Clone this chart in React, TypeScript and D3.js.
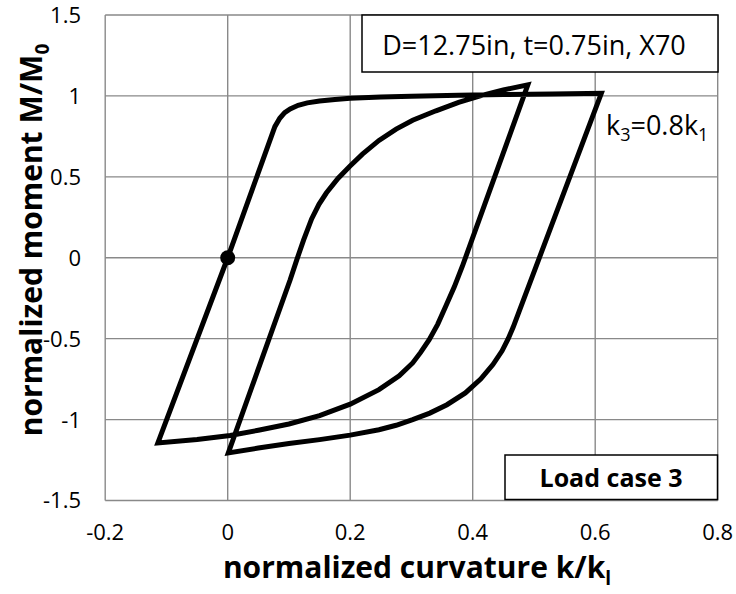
import React from 'react';
import * as d3 from 'd3';

const xTickValues = [-0.2, 0, 0.2, 0.4, 0.6, 0.8];
const xTickLabels = ['-0.2', '0', '0.2', '0.4', '0.6', '0.8'];
const yTickValues = [-1.5, -1, -0.5, 0, 0.5, 1, 1.5];
const yTickLabels = ['-1.5', '-1', '-0.5', '0', '0.5', '1', '1.5'];

// [normalized curvature, normalized moment]
const loading: [number, number][] = [
  [0, 0], [0.077, 0.81], [0.085, 0.862], [0.093, 0.897], [0.102, 0.92], [0.115, 0.942],
  [0.13, 0.957], [0.15, 0.969], [0.175, 0.978], [0.2, 0.985], [0.25, 0.993], [0.3, 0.998],
  [0.377, 1.004], [0.45, 1.008], [0.53, 1.012], [0.61, 1.016],
];
const unloading1: [number, number][] = [
  [0.61, 1.016], [0.474, -0.35], [0.466, -0.43], [0.458, -0.5], [0.448, -0.575],
  [0.433, -0.66], [0.413, -0.75], [0.388, -0.835], [0.358, -0.908], [0.33, -0.96],
  [0.302, -1.0], [0.275, -1.035], [0.247, -1.063], [0.2, -1.096], [0.15, -1.124],
  [0.1, -1.148], [0.05, -1.176], [0.001, -1.206],
];
const reloading1: [number, number][] = [
  [0.001, -1.206], [0.102, -0.136], [0.113, -0.01], [0.124, 0.11], [0.137, 0.24],
  [0.149, 0.33], [0.161, 0.4], [0.18, 0.49], [0.199, 0.564], [0.22, 0.64], [0.247, 0.725],
  [0.275, 0.795], [0.302, 0.85], [0.34, 0.908], [0.377, 0.96], [0.415, 1.003],
  [0.45, 1.037], [0.49, 1.068],
];
const unloading2: [number, number][] = [
  [0.49, 1.068], [0.383, -0.054], [0.37, -0.18], [0.356, -0.3], [0.343, -0.41],
  [0.329, -0.506], [0.315, -0.585], [0.302, -0.65], [0.28, -0.73], [0.247, -0.815],
  [0.2, -0.905], [0.15, -0.975], [0.1, -1.027], [0.05, -1.066], [0.004, -1.098],
  [-0.05, -1.123], [-0.114, -1.144],
];
const reloading2: [number, number][] = [
  [-0.114, -1.144], [0, 0],
];
const startPoint: [number, number] = [0, 0];

const W = 736;
const H = 594;
const plot = { left: 105.2, right: 717.7, top: 15, bottom: 500.5 };
const FONT = '"Open Sans", "Noto Sans", sans-serif';

export default function App() {
  const x = d3.scaleLinear().domain([-0.2, 0.8]).range([plot.left, plot.right]);
  const y = d3.scaleLinear().domain([-1.5, 1.5]).range([plot.bottom, plot.top]);

  const all: [number, number][] = [
    ...loading,
    ...unloading1.slice(1),
    ...reloading1.slice(1),
    ...unloading2.slice(1),
    ...reloading2.slice(1),
  ];
  const line = d3.line<[number, number]>().x((d) => x(d[0])).y((d) => y(d[1]));
  const gridColor = '#898989';

  return (
    <svg width={W} height={H} style={{ position: 'absolute', left: 0, top: 0, background: '#fff' }} fontFamily={FONT}>
      <rect x={0} y={0} width={W} height={H} fill="#fff" />
      {xTickValues.map((v) => (
        <line key={'gx' + v} x1={x(v)} x2={x(v)} y1={plot.top} y2={plot.bottom} stroke={gridColor} strokeWidth={1.4} />
      ))}
      {yTickValues.map((v) => (
        <line key={'gy' + v} x1={plot.left} x2={plot.right} y1={y(v)} y2={y(v)} stroke={gridColor} strokeWidth={1.4} />
      ))}
      {xTickValues.map((v, i) => (
        <text key={'tx' + v} x={x(v)} y={540} textAnchor="middle" fontSize={22} fill="#000">{xTickLabels[i]}</text>
      ))}
      {yTickValues.map((v, i) => (
        <text key={'ty' + v} x={81} y={y(v)} dy="0.36em" textAnchor="end" fontSize={22} fill="#000">{yTickLabels[i]}</text>
      ))}

      <path d={line(all) || ''} fill="none" stroke="#000" strokeWidth={5} strokeLinejoin="miter" strokeMiterlimit={10} />
      <circle cx={x(startPoint[0])} cy={y(startPoint[1])} r={7.5} fill="#000" />

      <rect x={362} y={15} width={356} height={57} fill="#fff" stroke="#000" strokeWidth={1.5} />
      <text x={534} y={55} textAnchor="middle" fontSize={27} fill="#000">D=12.75in, t=0.75in, X70</text>

      <text x={606} y={135} fontSize={27} fill="#000">
        k<tspan fontSize={18} dy={6}>3</tspan><tspan dy={-6}>=0.8k</tspan><tspan fontSize={18} dy={6}>1</tspan>
      </text>

      <rect x={505} y={455} width={212.5} height={44.5} fill="#fff" stroke="#000" strokeWidth={1.5} />
      <text x={611} y={487} textAnchor="middle" fontSize={25} fontWeight="bold" fill="#000">Load case 3</text>

      <text x={417} y={578} textAnchor="middle" fontSize={30} fontWeight="bold" fill="#000">
        normalized curvature k/k<tspan fontSize={19} dy={7}>l</tspan>
      </text>
      <text transform={`translate(42, 240) rotate(-90)`} textAnchor="middle" fontSize={30} fontWeight="bold" fill="#000">
        normalized moment M/M<tspan fontSize={19} dy={7}>0</tspan>
      </text>
    </svg>
  );
}
